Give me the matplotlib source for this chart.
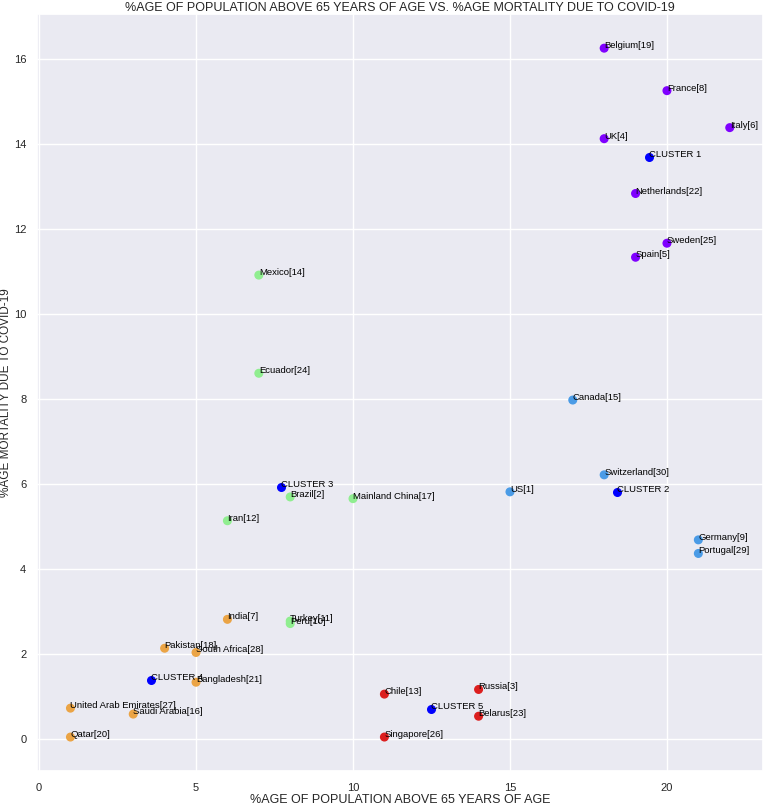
import matplotlib
matplotlib.use("Agg")
import matplotlib.pyplot as plt
import seaborn as sns

sns.set_theme(style="darkgrid")
plt.rcParams['font.family'] = ['Liberation Sans', 'DejaVu Sans']

countries = ["Belgium[19]", "France[8]", "Italy[6]", "UK[4]", "Netherlands[22]", "Sweden[25]", "Spain[5]",
             "Canada[15]", "Switzerland[30]", "US[1]", "Germany[9]", "Portugal[29]",
             "Mexico[14]", "Ecuador[24]", "Brazil[2]", "Mainland China[17]", "Iran[12]", "Turkey[11]", "Peru[10]",
             "India[7]", "Pakistan[18]", "South Africa[28]", "Bangladesh[21]", "United Arab Emirates[27]",
             "Saudi Arabia[16]", "Qatar[20]",
             "Chile[13]", "Russia[3]", "Belarus[23]", "Singapore[26]"]
age65 = [18, 20, 22, 18, 19, 20, 19,
         17, 18, 15, 21, 21,
         7, 7, 8, 10, 6, 8, 8,
         6, 4, 5, 5, 1, 3, 1,
         11, 14, 14, 11]
mortality = [16.26, 15.26, 14.39, 14.13, 12.84, 11.67, 11.34,
             7.98, 6.22, 5.82, 4.69, 4.37,
             10.92, 8.61, 5.70, 5.66, 5.14, 2.78, 2.72,
             2.82, 2.14, 2.04, 1.34, 0.73, 0.59, 0.05,
             1.06, 1.17, 0.54, 0.05]
cluster = [0] * 7 + [1] * 5 + [2] * 7 + [3] * 7 + [4] * 4

cluster_colors = ["#7f00ff", "#4a9be6", "#90ee90", "#eba445", "#dc1e1e"]
centroid_labels = ["CLUSTER 1", "CLUSTER 2", "CLUSTER 3", "CLUSTER 4", "CLUSTER 5"]

fig, ax = plt.subplots(figsize=(7.65, 8.07), dpi=100)

ax.scatter(age65, mortality, c=[cluster_colors[k] for k in cluster], s=30, zorder=3)
for x, y, name in zip(age65, mortality, countries):
    ax.text(x, y, name, fontsize=6.8, color="black", zorder=4)

# centroids computed from cluster members
for k, lab in enumerate(centroid_labels):
    xs = [a for a, c in zip(age65, cluster) if c == k]
    ys = [m for m, c in zip(mortality, cluster) if c == k]
    cx = sum(xs) / len(xs)
    cy = sum(ys) / len(ys)
    ax.scatter([cx], [cy], color="#0000ff", s=30, zorder=3)
    ax.text(cx, cy, lab, fontsize=6.8, color="black", zorder=4)

ax.set_title("%AGE OF POPULATION ABOVE 65 YEARS OF AGE VS. %AGE MORTALITY DUE TO COVID-19",
             fontsize=9, pad=2)
ax.set_xlabel("%AGE OF POPULATION ABOVE 65 YEARS OF AGE", fontsize=9, labelpad=1)
ax.set_ylabel("%AGE MORTALITY DUE TO COVID-19", fontsize=8.5, labelpad=1)
ax.tick_params(labelsize=8, pad=2)

fig.subplots_adjust(left=0.049, right=0.997, top=0.983, bottom=0.044)
fig.savefig("out.png", dpi=100)
